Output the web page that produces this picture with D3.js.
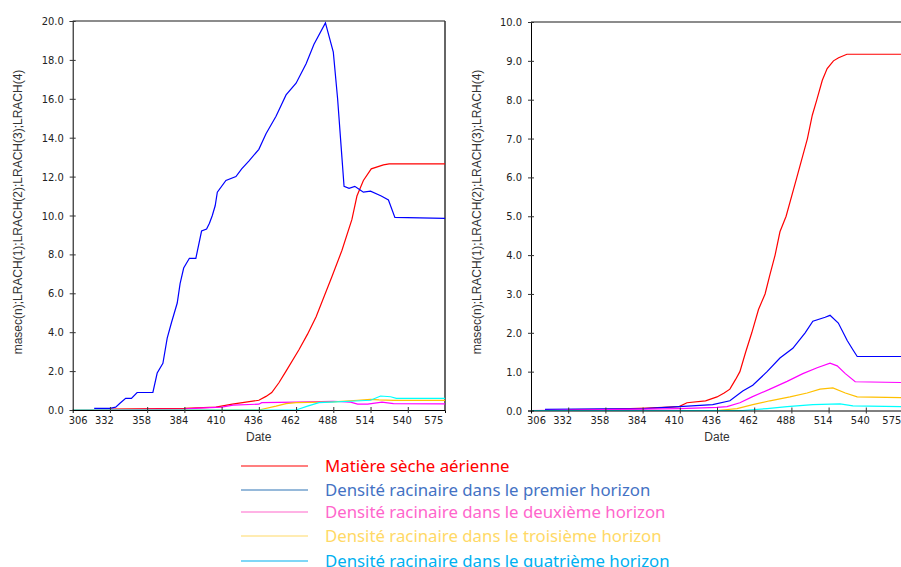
<!DOCTYPE html>
<html>
<head>
<meta charset="utf-8">
<script src="https://cdn.jsdelivr.net/npm/d3@7"></script>
<style>
  body { margin: 0; background: #fff; }
  svg { display: block; }
  .tick text { font-family: "DejaVu Sans Condensed", "DejaVu Sans", sans-serif; font-size: 11px; fill: #222; }
  .title { font-family: "Liberation Sans", Arial, sans-serif; font-size: 12px; fill: #333; }
  .legend text { font-family: "Noto Sans", sans-serif; font-size: 16.8px; }
</style>
</head>
<body>
<svg id="chart" width="901" height="567"></svg>
<script>
// Values (date, value)
const xTicks = [306, 332, 358, 384, 410, 436, 462, 488, 514, 540, 562];
const xTickLabels = ["306", "332", "358", "384", "410", "436", "462", "488", "514", "540", "575"];
const leftYTicks = [0, 2, 4, 6, 8, 10, 12, 14, 16, 18, 20];
const rightYTicks = [0, 1, 2, 3, 4, 5, 6, 7, 8, 9, 10];

const leftMasec = [[332, 0.05], [384, 0.08], [406, 0.15], [417.5, 0.3], [436, 0.5], [441, 0.7], [445, 0.9], [450, 1.4], [455, 2.0], [464, 3.1], [470, 3.9], [476, 4.8], [487, 6.85], [494, 8.2], [501, 9.8], [504.5, 11.0], [509, 11.8], [514.5, 12.4], [523, 12.6], [527, 12.65], [566, 12.65]];
const leftLrach1 = [[321, 0.08], [332, 0.08], [336, 0.15], [339, 0.35], [343, 0.6], [347, 0.6], [351, 0.9], [362, 0.9], [365, 1.9], [369, 2.4], [372, 3.7], [375, 4.5], [379, 5.5], [381, 6.5], [383.5, 7.3], [387.5, 7.8], [392, 7.8], [396, 9.2], [399.5, 9.3], [401.5, 9.6], [403.5, 10.0], [405.5, 10.5], [407, 11.2], [413, 11.8], [420, 12.0], [424, 12.4], [429, 12.8], [436, 13.4], [441, 14.2], [448, 15.1], [455, 16.2], [462, 16.8], [469, 17.8], [474.5, 18.8], [482.5, 19.9], [488, 18.4], [491, 16.0], [494, 13.0], [495.5, 11.5], [499, 11.4], [503, 11.5], [506, 11.35], [509, 11.2], [514, 11.25], [521.5, 11.0], [526.5, 10.8], [531, 9.9], [566, 9.85]];
const leftLrach2 = [[306, 0], [384, 0.05], [394, 0.1], [410, 0.15], [418, 0.25], [436, 0.3], [438, 0.38], [462, 0.4], [488, 0.45], [500, 0.4], [505, 0.3], [512, 0.3], [522, 0.4], [530, 0.33], [566, 0.32]];
const leftLrach3 = [[306, 0], [436, 0], [448, 0.2], [455, 0.33], [462, 0.38], [488, 0.42], [505, 0.5], [514, 0.55], [520, 0.52], [530, 0.5], [566, 0.5]];
const leftLrach4 = [[306, 0], [462, 0], [470, 0.2], [478, 0.38], [500, 0.45], [514, 0.5], [521, 0.72], [528, 0.68], [532, 0.6], [566, 0.6]];

const rightMasec = [[332, 0.02], [358, 0.03], [387, 0.06], [409.5, 0.1], [415, 0.2], [428, 0.25], [436, 0.35], [441, 0.45], [445, 0.55], [449, 0.8], [452, 1.0], [456, 1.5], [460.3, 2.0], [465, 2.6], [469.6, 3.0], [473, 3.5], [476.6, 4.0], [480, 4.6], [484.3, 5.0], [491.8, 6.0], [499.2, 7.0], [502.6, 7.6], [505.8, 8.0], [509.6, 8.5], [513, 8.8], [517.4, 9.0], [521, 9.08], [526.8, 9.17], [566, 9.17]];
const rightLrach1 = [[315.8, 0.03], [358, 0.04], [385, 0.05], [409.5, 0.1], [433, 0.15], [445, 0.25], [454, 0.5], [461, 0.65], [471, 1.0], [480, 1.35], [489, 1.6], [497.6, 2.0], [503, 2.3], [511.6, 2.4], [515, 2.45], [520.8, 2.25], [527, 1.8], [531.2, 1.55], [534, 1.39], [566, 1.39]];
const rightLrach2 = [[306, 0], [358, 0.02], [410, 0.05], [436, 0.08], [443, 0.1], [452, 0.2], [460.5, 0.35], [473, 0.55], [485, 0.75], [496, 0.95], [506, 1.1], [515, 1.22], [520, 1.15], [525.7, 0.95], [532.6, 0.74], [566, 0.72]];
const rightLrach3 = [[306, 0], [436, 0], [450, 0.05], [461, 0.15], [473, 0.25], [487, 0.35], [499, 0.45], [508, 0.55], [517, 0.58], [525.7, 0.45], [534, 0.35], [566, 0.33]];
const rightLrach4 = [[306, 0], [454, 0], [471, 0.05], [485, 0.1], [503, 0.15], [522, 0.17], [531, 0.12], [566, 0.1]];

const seriesColors = ["#ff0000", "#0000ff", "#ff00ff", "#ffc000", "#00ffff"];
const legendLabels = [
  "Matière sèche aérienne",
  "Densité racinaire dans le premier horizon",
  "Densité racinaire dans le deuxième horizon",
  "Densité racinaire dans le troisième horizon",
  "Densité racinaire dans le quatrième horizon",
];
const legendLineColors = ["#ff0000", "#2e75b6", "#ff66cc", "#ffd966", "#00b0f0"];
const legendTextColors = ["#ff0000", "#4472c4", "#ff66cc", "#ffd966", "#00b0f0"];

const svg = d3.select("#chart");
const yTitle = "masec(n);LRACH(1);LRACH(2);LRACH(3);LRACH(4)";

const panels = [
  { x: [72.7, 445], y: [410, 21], yMax: 20, yTicks: leftYTicks, titleX: 18, rightBorder: true,
    series: [leftMasec, leftLrach1, leftLrach2, leftLrach3, leftLrach4] },
  { x: [531, 903], y: [410.5, 22], yMax: 10, yTicks: rightYTicks, titleX: 477, rightBorder: false,
    series: [rightMasec, rightLrach1, rightLrach2, rightLrach3, rightLrach4] },
];

panels.forEach(p => {
  const x = d3.scaleLinear().domain([306, 566]).range(p.x);
  const y = d3.scaleLinear().domain([0, p.yMax]).range(p.y);
  const g = svg.append("g");

  // frame (top / right)
  g.append("line")
    .attr("x1", p.x[0]).attr("x2", p.x[1])
    .attr("y1", p.y[1]).attr("y2", p.y[1])
    .attr("stroke", "#666").attr("stroke-width", 1.5);
  if (p.rightBorder) {
    g.append("line")
      .attr("x1", p.x[1]).attr("x2", p.x[1])
      .attr("y1", p.y[1]).attr("y2", p.y[0])
      .attr("stroke", "#333").attr("stroke-width", 1.5);
  }

  // lines
  const line = d3.line().x(d => x(d[0])).y(d => y(d[1]));
  g.selectAll(".series")
    .data(p.series)
    .enter()
    .append("path")
    .attr("class", "series")
    .attr("fill", "none")
    .attr("stroke", (d, i) => seriesColors[i])
    .attr("stroke-width", 1.2)
    .attr("d", line);

  // y axis
  const yAxis = g.append("g")
    .attr("transform", `translate(${p.x[0]},0)`)
    .call(d3.axisLeft(y).tickValues(p.yTicks).tickFormat(d3.format(".1f")).tickSize(3).tickPadding(6));
  yAxis.select(".domain").attr("stroke", "#000");
  yAxis.selectAll(".tick line").attr("x2", 3).attr("x1", -3).attr("stroke", "#333");

  // x axis
  const xAxis = g.append("g")
    .attr("transform", `translate(0,${p.y[0]})`)
    .call(d3.axisBottom(x).tickValues(xTicks).tickFormat((d, i) => xTickLabels[i]).tickSize(3).tickPadding(3));
  xAxis.select(".domain").attr("stroke", "#000");
  xAxis.selectAll(".tick line").attr("y1", -3).attr("y2", 3).attr("stroke", "#333");
  xAxis.selectAll(".tick text").attr("dx", (d, i) => i === 0 ? 5 : -6);
  xAxis.selectAll(".tick").filter((d, i) => i === 0 || i === xTicks.length - 1).select("line").remove();

  // titles
  g.append("text")
    .attr("class", "title")
    .attr("text-anchor", "middle")
    .attr("x", p.x[0] + 186)
    .attr("y", 441)
    .text("Date");
  g.append("text")
    .attr("class", "title")
    .attr("text-anchor", "middle")
    .attr("transform", `translate(${p.titleX + 4},212) rotate(-90)`)
    .text(yTitle);
});

// Legend
const legend = svg.append("g").attr("class", "legend");
const legendRowY = [466, 490, 512, 536, 561];
legendLabels.forEach((label, i) => {
  legend.append("line")
    .attr("x1", 241).attr("x2", 308)
    .attr("y1", legendRowY[i]).attr("y2", legendRowY[i])
    .attr("stroke", legendLineColors[i]).attr("stroke-width", 1.2);
  legend.append("text")
    .attr("x", 325).attr("y", legendRowY[i] + 5.5)
    .attr("fill", legendTextColors[i])
    .text(label);
});
</script>
</body>
</html>
